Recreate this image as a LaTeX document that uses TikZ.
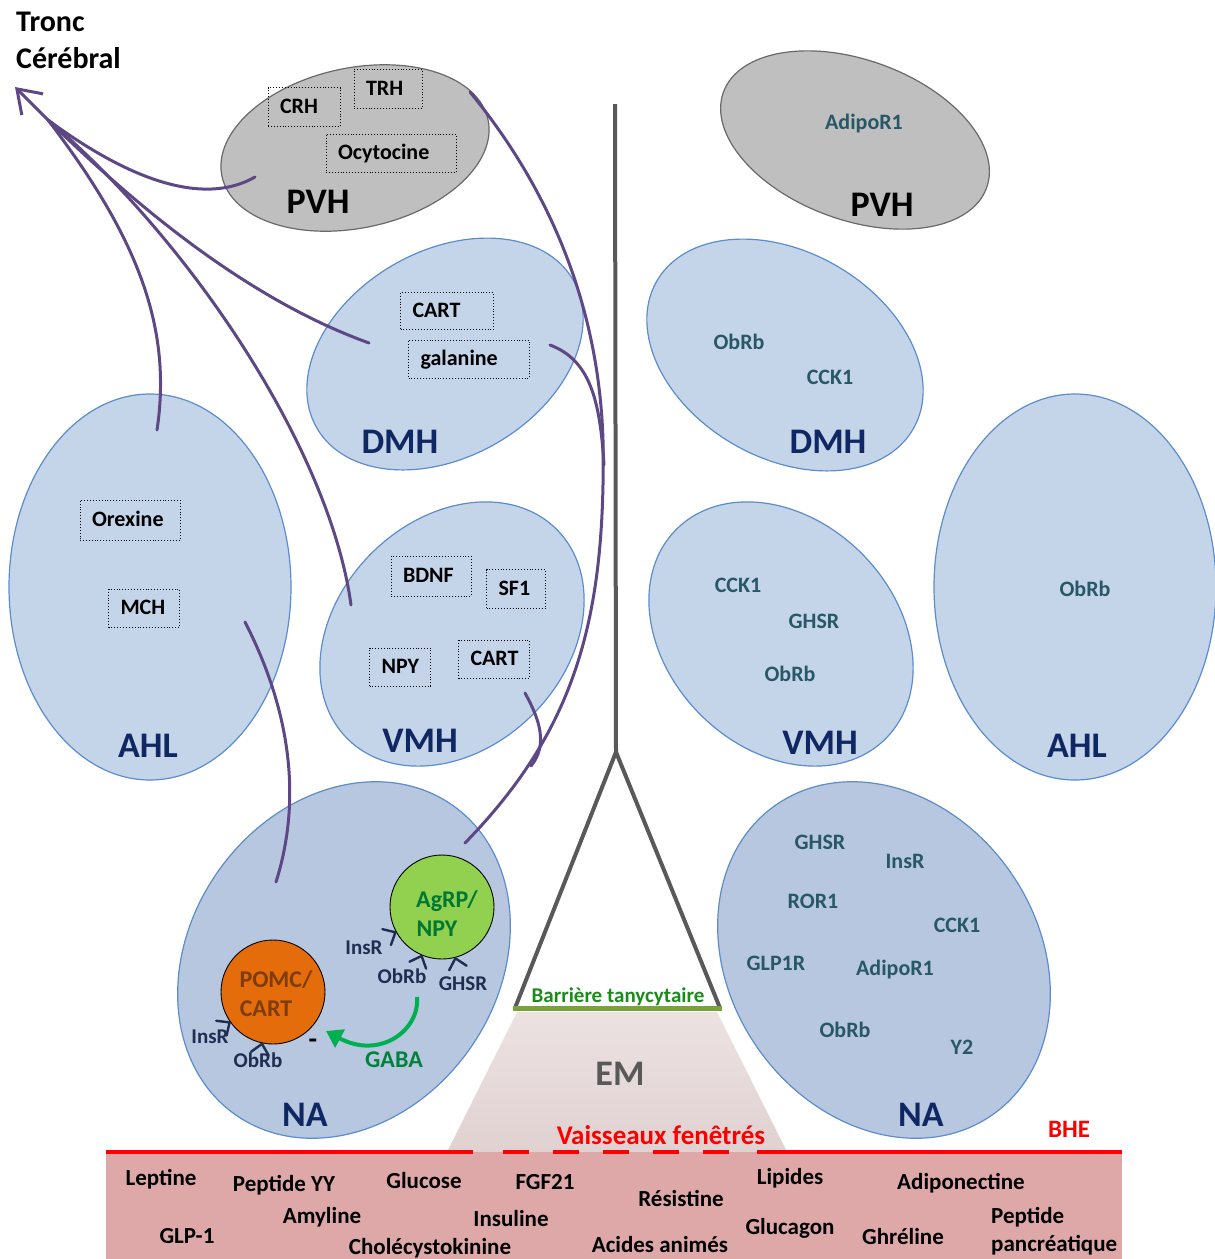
\documentclass[tikz,border=0pt]{standalone}
\usepackage{fontspec}
\setmainfont{Carlito}
\usetikzlibrary{shapes.geometric,arrows.meta,calc}
\definecolor{ellblue}{RGB}{197,213,233}
\definecolor{nablue}{RGB}{183,199,224}
\definecolor{ellbord}{RGB}{91,140,203}
\definecolor{grayfill}{RGB}{191,191,191}
\definecolor{graybord}{RGB}{105,105,105}
\definecolor{titleblue}{RGB}{15,40,100}
\definecolor{rtext}{RGB}{40,88,102}
\definecolor{purp}{RGB}{93,72,133}
\definecolor{recnavy}{RGB}{30,45,80}
\definecolor{agrpgreen}{RGB}{146,208,80}
\definecolor{agrptext}{RGB}{0,120,50}
\definecolor{pomcor}{RGB}{228,108,10}
\definecolor{pomctext}{RGB}{125,60,10}
\definecolor{gabag}{RGB}{0,176,80}
\definecolor{gabat}{RGB}{0,130,60}
\definecolor{cline}{RGB}{89,89,89}
\definecolor{barg}{RGB}{119,163,58}
\definecolor{bartext}{RGB}{25,140,25}
\definecolor{bandfill}{RGB}{222,168,168}
\definecolor{emtop}{RGB}{236,226,226}
\definecolor{embot}{RGB}{225,209,209}
\definecolor{vred}{RGB}{250,0,0}
\newcommand{\fsz}[1]{\fontsize{#1pt}{#1pt}\selectfont\bfseries}
\begin{document}
\begin{tikzpicture}[x=1pt,y=-1pt,
  lb/.style={inner sep=0pt, font=\fsz{#1}, text height={0.63*#1pt}, text depth=0pt},
  bell/.style={ellipse, draw=ellbord, line width=1.2pt, fill=ellblue, inner sep=0pt},
  nell/.style={bell, fill=nablue},
  gell/.style={ellipse, draw=graybord, line width=1.2pt, fill=grayfill, inner sep=0pt},
  ttl/.style={lb=36, text=titleblue},
  box/.style={lb=22, draw, dotted, line width=0.9pt, inner xsep=12pt, align=left, text width={#1pt-24pt}},
  rec/.style={lb=22, text=rtext},
  srec/.style={lb=21, text=recnavy},
  band/.style={lb=23},
  purpline/.style={draw=purp, line width=3pt, line cap=round},
  recep/.pic={\draw[recnavy, line width=2.4pt, line cap=round, line join=round] (-10,-9) -- (0,0) -- (-10,9);}
]
\useasboundingbox (0,0) rectangle (1215,1259);

% EM trapezoid and blood band
\coordinate (emA) at (517,1012);
\coordinate (emB) at (717,1012);
\coordinate (emC) at (787,1152);
\coordinate (emD) at (447,1152);
\shade[top color=emtop, bottom color=embot] (emA) -- (emB) -- (emC) -- (emD) -- cycle;
\node[lb=36, text=cline] (em) at (620,1074) {EM};
\fill[bandfill] (106,1152) rectangle (1122,1259);

\coordinate (rA) at (106,1152);
\coordinate (rB) at (473,1152);
\coordinate (rC) at (503,1152);
\coordinate (rD) at (730,1152);
\coordinate (rE) at (757,1152);
\coordinate (rF) at (1122,1152);
\draw[vred, line width=4pt] (rA) -- (rB);
\draw[vred, line width=4pt, dash pattern=on 26pt off 24pt] (rC) -- (rD);
\draw[vred, line width=4pt] (rE) -- (rF);
\node[lb=27, text=vred] (vf) at (661,1136) {Vaisseaux fenêtrés};
\node[lb=25, text=vred] (bhe) at (1069,1130) {BHE};

% band labels
\node[band] (l1) at (161,1178) {Leptine};
\node[band] (l2) at (284,1184) {Peptide YY};
\node[band] (l3) at (424,1181) {Glucose};
\node[band] (l4) at (545,1182) {FGF21};
\node[band] (l5) at (681,1199) {Résistine};
\node[band] (l6) at (790,1177) {Lipides};
\node[band] (l7) at (961,1182) {Adiponectine};
\node[band] (l8) at (187,1236) {GLP-1};
\node[band] (l9) at (322,1216) {Amyline};
\node[band] (l10) at (511,1219) {Insuline};
\node[band] (l11) at (430,1247) {Cholécystokinine};
\node[band] (l12) at (660,1245) {Acides animés};
\node[band] (l13) at (790,1227) {Glucagon};
\node[band] (l14) at (903,1237) {Ghréline};
\node[band, anchor=west] (l15) at (991,1216) {Peptide};
\node[band, anchor=west] (l16) at (991,1244) {pancréatique};

% ellipses
\node[gell, minimum width=272pt, minimum height=160pt, rotate=12] (pvhL) at (355,148) {};
\node[gell, minimum width=280pt, minimum height=160pt, rotate=-20] (pvhR) at (855,140) {};
\node[bell, minimum width=296pt, minimum height=206pt, rotate=30] (dmhL) at (445,354) {};
\node[bell, minimum width=296pt, minimum height=206pt, rotate=-30] (dmhR) at (785,355) {};
\node[bell, minimum width=282pt, minimum height=386pt] (ahlL) at (150,587) {};
\node[bell, minimum width=282pt, minimum height=386pt] (ahlR) at (1075,587) {};
\node[bell, minimum width=296pt, minimum height=228pt, rotate=45] (vmhL) at (452,634) {};
\node[bell, minimum width=296pt, minimum height=228pt, rotate=-45] (vmhR) at (781,634) {};
\node[nell, minimum width=378pt, minimum height=308pt, rotate=55] (naL) at (344,960) {};
\node[nell, minimum width=378pt, minimum height=308pt, rotate=-55] (naR) at (884,960) {};

% titles
\node[ttl, text=black] (t1) at (318,202) {PVH};
\node[ttl, text=black] (t2) at (882,205) {PVH};
\node[ttl] (t3) at (400,442) {DMH};
\node[ttl] (t4) at (828,442) {DMH};
\node[ttl] (t5) at (148,746) {AHL};
\node[ttl] (t6) at (1077,746) {AHL};
\node[ttl] (t7) at (420,741) {VMH};
\node[ttl] (t8) at (820,743) {VMH};
\node[ttl] (t9) at (305,1115) {NA};
\node[ttl] (t10) at (921,1115) {NA};

% dotted boxes
\node[box=72, minimum height=39pt] (crh) at (304,107) {CRH};
\node[box=68, minimum height=39pt] (trh) at (388,89) {TRH};
\node[box=130, minimum height=38pt] (ocy) at (391,153) {Ocytocine};
\node[box=93, minimum height=37pt] (cartD) at (447,311) {CART};
\node[box=121, minimum height=38pt] (gal) at (469,359) {galanine};
\node[box=100, minimum height=40pt] (orx) at (130,520) {Orexine};
\node[box=71, minimum height=38pt] (mch) at (144,608) {MCH};
\node[box=80, minimum height=40pt] (bdnf) at (431,576) {BDNF};
\node[box=59, minimum height=39pt] (sf1) at (516,589) {SF1};
\node[box=61, minimum height=38pt] (npy) at (400,667) {NPY};
\node[box=71, minimum height=38pt] (cartV) at (494,659) {CART};

% right-side receptors
\node[rec] (r1) at (864,123) {AdipoR1};
\node[rec] (r2) at (739,343) {ObRb};
\node[rec] (r3) at (830,378) {CCK1};
\node[rec] (r4) at (738,586) {CCK1};
\node[rec] (r5) at (814,622) {GHSR};
\node[rec] (r6) at (790,675) {ObRb};
\node[rec] (r7) at (1085,590) {ObRb};
\node[rec] (r8) at (820,843) {GHSR};
\node[rec] (r9) at (905,862) {InsR};
\node[rec] (r10) at (813,902) {ROR1};
\node[rec] (r11) at (957,926) {CCK1};
\node[rec] (r12) at (776,964) {GLP1R};
\node[rec] (r13) at (895,969) {AdipoR1};
\node[rec] (r14) at (845,1031) {ObRb};
\node[rec] (r15) at (962,1048) {Y2};

% neurons in NA
\node[circle, draw=black, line width=0.9pt, fill=agrpgreen, minimum size=104pt, inner sep=0pt] (agrp) at (442,907) {};
\node[circle, draw=black, line width=0.9pt, fill=pomcor, minimum size=104pt, inner sep=0pt] (pomc) at (273,992) {};
\node[lb=24, text=agrptext] (ag1) at (447,900) {AgRP/};
\node[lb=24, text=agrptext] (ag2) at (437,929) {NPY};
\node[lb=24, text=pomctext] (po1) at (276,980) {POMC/};
\node[lb=24, text=pomctext] (po2) at (266,1009) {CART};
\pic[rotate=28.5] at ($(agrp.center)+(151.5:53)$) {recep};
\pic[rotate=67.4] at ($(agrp.center)+(112.6:53)$) {recep};
\pic[rotate=104.6] at ($(agrp.center)+(75.4:53)$) {recep};
\pic[rotate=35] at ($(pomc.center)+(145:53)$) {recep};
\pic[rotate=78] at ($(pomc.center)+(102:53)$) {recep};
\node[srec] (s1) at (364,948) {InsR};
\node[srec] (s2) at (402,977) {ObRb};
\node[srec] (s3) at (463,984) {GHSR};
\node[srec] (s4) at (210,1037) {InsR};
\node[srec] (s5) at (258,1061) {ObRb};
\coordinate (gabaS) at (417,997);
\coordinate (gabaE) at (326,1031);
\draw[gabag, line width=4pt, -{Triangle[length=16pt,width=20pt]}] (gabaS) .. controls (420,1030) and (380,1060) .. (gabaE);
\node[lb=24, text=gabat] (gaba) at (394,1060) {GABA};
\node[lb=28] (minus) at (313,1040) {-};

% central line and triangle
\coordinate (vtop) at (615,104);
\coordinate (apex) at (616,752);
\coordinate (legL) at (515,1008);
\coordinate (legR) at (720,1008);
\draw[cline, line width=4pt, line join=round] (vtop) -- (apex) -- (legL);
\draw[cline, line width=4pt, line join=round] (apex) -- (legR);
\draw[barg, line width=5pt] (513,1008) -- (722,1008);
\node[lb=21, text=bartext] (bar) at (618,996) {Barrière tanycytaire};

% brainstem
\node[lb=30, anchor=west] (tr1) at (16,22) {Tronc};
\node[lb=30, anchor=west] (tr2) at (16,59) {Cérébral};

% purple projections
\coordinate (conv) at (48,120);
\coordinate (tc) at (15,87);
\coordinate (pvhS) at (255,177);
\coordinate (dmhS) at (369,343);
\coordinate (vmhS) at (351,605);
\coordinate (ahlS) at (157,430);
\coordinate (trhS) at (470,92);
\coordinate (galS) at (550,345);
\coordinate (mid) at (603,440);
\coordinate (naE) at (465,843);
\coordinate (cartS) at (525,693);
\coordinate (cartE) at (531,766);
\coordinate (mchS) at (245,622);
\coordinate (mchE) at (276,882);
\draw[purpline] (pvhS) .. controls (215,200) and (150,195) .. (conv);
\draw[purpline] (dmhS) .. controls (250,300) and (140,210) .. (conv);
\draw[purpline] (vmhS) .. controls (330,450) and (190,240) .. (conv);
\draw[purpline] (ahlS) .. controls (172,330) and (140,240) .. (conv);
\draw[purpline, -{Straight Barb[length=22pt,width=30pt]}] (conv) -- (tc);
\draw[purpline] (trhS) .. controls (530,165) and (598,280) .. (mid) .. controls (606,620) and (575,730) .. (naE);
\draw[purpline] (galS) .. controls (590,360) and (600,400) .. (604,465);
\draw[purpline] (cartS) .. controls (540,720) and (548,745) .. (cartE);
\draw[purpline] (mchS) .. controls (285,700) and (305,790) .. (mchE);
\end{tikzpicture}
\end{document}
